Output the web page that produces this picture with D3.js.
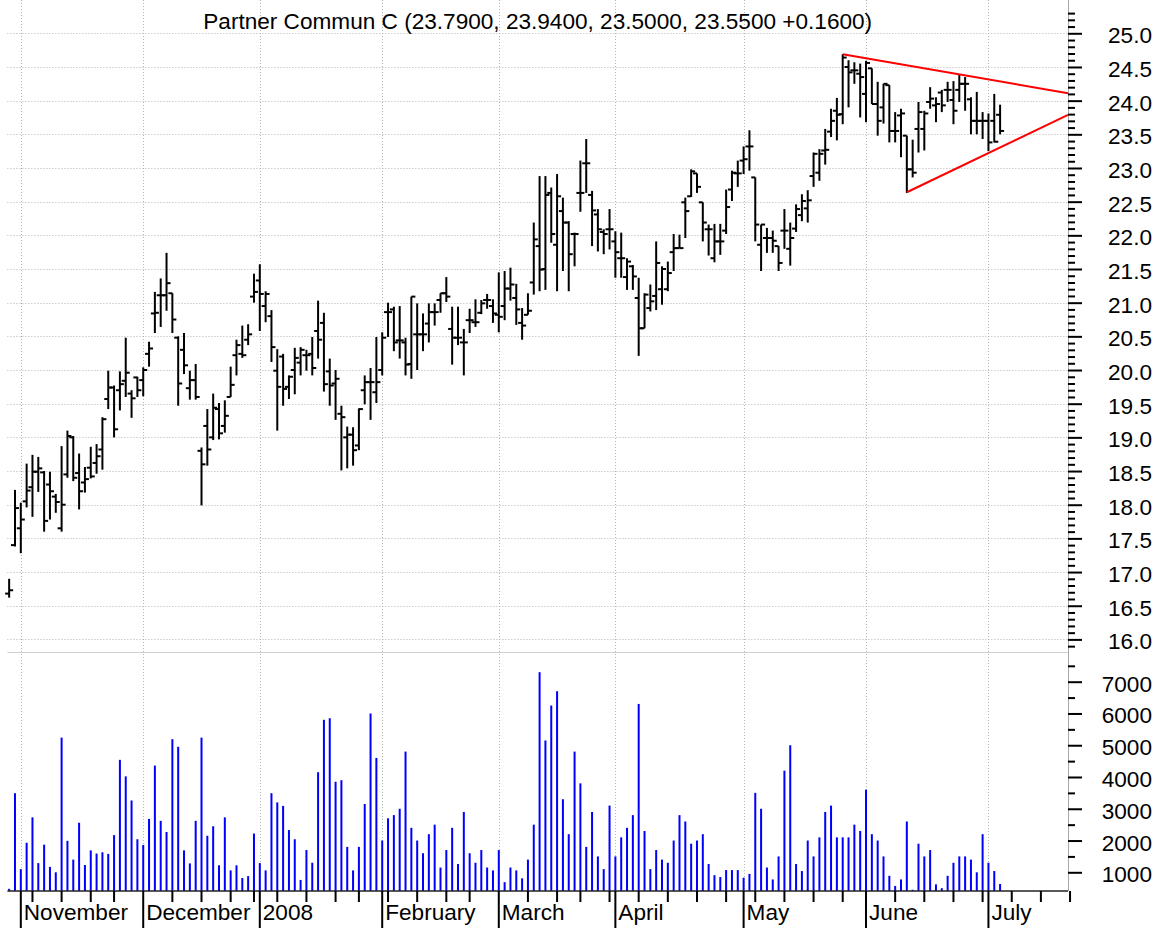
<!DOCTYPE html>
<html lang="en">
<head>
<meta charset="UTF-8" />
<title>Partner Commun C</title>
<style>
  body { margin: 0; background: #fff; }
  svg { display: block; font-family: "Liberation Sans", Arial, sans-serif; }
</style>
</head>
<body>
<svg id="chart" width="1168" height="928"></svg>
<script src="https://cdn.jsdelivr.net/npm/d3@7"></script>
<script>
// DATA (trading days from 2007-10-30 to 2008-07-03)
const START_DATE = "2007-10-30";
const HOLIDAYS = ["2007-11-22", "2007-12-25", "2008-01-01", "2008-01-21", "2008-02-18", "2008-03-21", "2008-05-26"];
const TITLE = "Partner Commun C (23.7900, 23.9400, 23.5000, 23.5500 +0.1600)";

const opens = [
  16.68, 17.40, 17.65, 18.05, 18.26, 18.49, 18.48, 18.30, 18.12, 17.65,
  18.45, 19.00, 18.47, 18.33, 18.55, 18.62, 18.82, 19.57, 19.74, 19.70,
  19.84, 19.65, 19.89, 19.85, 20.24, 20.84, 21.11, 21.11, 21.14, 20.48,
  20.30, 19.73, 19.85, 18.80, 19.17, 19.00, 19.42, 19.17, 19.60, 20.22,
  20.24, 20.45, 21.09, 21.33, 20.95, 20.80, 19.99, 20.20, 19.75, 20.00,
  20.11, 20.22, 20.24, 20.58, 20.70, 19.98, 19.80, 19.35, 19.00, 19.04,
  18.88, 19.70, 19.82, 19.67, 20.00, 20.86, 20.90, 20.44, 20.41, 20.09,
  20.53, 20.53, 20.69, 20.86, 21.04, 21.14, 20.61, 20.48, 20.41, 20.74,
  20.71, 20.85, 21.04, 20.95, 20.82, 20.95, 21.21, 21.07, 20.70, 20.82,
  21.30, 21.84, 21.50, 22.63, 21.86, 22.36, 22.19, 22.02, 22.63, 23.07,
  22.60, 22.31, 22.05, 22.09, 21.91, 21.66, 21.38, 21.54, 21.07, 20.62,
  20.92, 21.10, 21.20, 21.20, 21.75, 21.81, 22.49, 22.58, 22.92, 22.49,
  22.09, 21.66, 21.91, 22.07, 22.68, 22.92, 23.11, 23.32, 22.86, 21.86,
  21.96, 21.96, 21.84, 22.07, 21.80, 22.10, 22.30, 22.40, 22.88, 22.93,
  23.26, 23.54, 23.85, 23.80, 24.50, 24.45, 24.40, 24.10, 24.48, 23.95,
  23.90, 24.23, 23.55, 23.78, 23.48, 22.98, 23.58, 23.58, 23.98, 23.93,
  24.12, 24.16, 24.01, 24.16, 24.25, 24.02, 23.70, 23.70, 23.70, 23.70,
  23.79
];
const highs = [
  16.90, 18.22, 18.03, 18.61, 18.74, 18.71, 18.50, 18.49, 18.16, 18.87,
  19.10, 19.02, 18.76, 18.56, 18.86, 18.90, 19.30, 19.99, 19.77, 19.98,
  20.48, 19.70, 19.90, 20.04, 20.42, 21.16, 21.36, 21.74, 21.14, 20.50,
  20.55, 19.99, 20.09, 18.85, 19.42, 19.65, 19.51, 19.55, 20.05, 20.45,
  20.66, 20.68, 21.43, 21.57, 21.17, 20.89, 20.31, 20.24, 19.92, 20.33,
  20.34, 20.30, 20.49, 21.03, 20.85, 20.17, 20.00, 19.47, 19.16, 19.15,
  19.43, 19.92, 20.03, 20.49, 20.56, 21.00, 20.94, 20.95, 20.48, 21.09,
  20.99, 20.84, 20.99, 20.99, 21.14, 21.38, 20.94, 20.94, 20.61, 20.91,
  21.05, 21.04, 21.13, 21.05, 21.45, 21.47, 21.52, 21.28, 20.92, 21.14,
  22.19, 22.88, 22.88, 22.71, 22.91, 22.56, 22.21, 22.04, 23.11, 23.43,
  22.66, 22.39, 22.09, 22.39, 22.06, 22.04, 21.66, 21.56, 21.37, 21.14,
  21.27, 21.91, 21.54, 21.61, 22.02, 22.01, 22.56, 22.98, 22.92, 22.49,
  22.16, 22.17, 22.17, 22.68, 22.96, 23.11, 23.32, 23.56, 22.86, 22.16,
  22.11, 22.07, 21.84, 22.39, 22.19, 22.46, 22.61, 22.67, 23.23, 23.28,
  23.58, 23.88, 24.04, 24.69, 24.60, 24.57, 24.55, 24.59, 24.48, 24.28,
  24.25, 24.23, 23.83, 23.88, 23.48, 23.42, 23.98, 23.85, 24.20, 24.05,
  24.16, 24.28, 24.29, 24.38, 24.35, 24.05, 24.13, 23.83, 23.81, 24.10,
  23.94
];
const lows = [
  16.62, 17.38, 17.28, 17.96, 17.82, 18.19, 17.60, 17.78, 17.88, 17.60,
  18.40, 18.35, 17.93, 18.18, 18.39, 18.46, 18.52, 19.42, 19.00, 19.40,
  19.60, 19.29, 19.60, 19.61, 20.05, 20.55, 20.64, 20.88, 20.55, 19.47,
  19.94, 19.56, 19.56, 17.99, 18.58, 18.96, 18.97, 19.07, 19.60, 19.92,
  20.18, 20.37, 21.00, 20.58, 20.71, 20.12, 19.10, 19.47, 19.57, 19.64,
  19.92, 19.99, 19.92, 20.17, 19.68, 19.47, 19.26, 18.51, 18.54, 18.58,
  18.81, 19.49, 19.26, 19.51, 19.92, 20.49, 20.28, 20.17, 19.92, 19.87,
  20.00, 20.28, 20.41, 20.66, 20.85, 21.01, 20.08, 20.37, 19.92, 20.55,
  20.64, 20.83, 20.91, 20.70, 20.56, 20.74, 21.03, 20.67, 20.45, 20.82,
  21.12, 21.17, 21.19, 21.89, 21.17, 21.47, 21.17, 21.54, 22.35, 22.63,
  21.84, 21.76, 21.72, 21.79, 21.37, 21.37, 21.19, 21.19, 20.21, 20.62,
  20.87, 20.89, 20.97, 21.17, 21.47, 21.81, 21.96, 22.57, 22.63, 21.91,
  21.70, 21.60, 21.71, 22.02, 22.51, 22.72, 22.91, 22.96, 21.91, 21.47,
  21.74, 21.74, 21.47, 21.80, 21.55, 22.05, 22.21, 22.19, 22.72, 22.81,
  23.05, 23.46, 23.41, 23.65, 23.90, 24.25, 23.75, 23.68, 23.95, 23.48,
  23.66, 23.38, 23.38, 23.16, 22.63, 22.86, 23.23, 23.26, 23.88, 23.68,
  23.83, 23.98, 23.65, 23.98, 23.85, 23.50, 23.50, 23.43, 23.25, 23.38,
  23.50
];
const closes = [
  16.73, 17.95, 17.78, 18.21, 18.49, 18.54, 17.76, 18.20, 18.04, 18.00,
  19.02, 18.40, 18.20, 18.38, 18.42, 18.72, 19.27, 19.74, 19.12, 19.79,
  19.96, 19.58, 19.70, 20.00, 20.32, 20.85, 21.11, 21.29, 20.75, 19.80,
  20.07, 19.85, 19.60, 18.60, 18.82, 19.44, 19.06, 19.32, 19.78, 20.37,
  20.22, 20.53, 21.16, 21.13, 21.13, 20.34, 19.75, 19.72, 19.90, 20.18,
  20.30, 20.22, 20.03, 20.45, 19.79, 19.77, 19.87, 19.30, 19.04, 18.81,
  19.42, 19.82, 19.82, 19.82, 20.48, 20.86, 20.41, 20.44, 20.08, 21.09,
  20.53, 20.53, 20.86, 20.86, 21.14, 21.09, 20.48, 20.48, 20.41, 20.74,
  20.71, 20.99, 21.04, 20.84, 20.79, 21.21, 21.27, 20.90, 20.66, 20.88,
  21.94, 21.49, 22.60, 22.02, 22.58, 22.19, 21.72, 22.02, 22.63, 23.07,
  22.37, 22.09, 22.02, 22.09, 21.75, 21.66, 21.61, 21.39, 20.62, 21.12,
  21.02, 21.59, 21.50, 21.44, 21.81, 21.81, 22.36, 22.95, 22.72, 22.19,
  22.09, 21.91, 21.91, 22.42, 22.93, 22.92, 23.13, 23.32, 22.16, 22.16,
  21.96, 21.92, 21.59, 22.07, 21.96, 22.39, 22.51, 22.52, 23.21, 23.21,
  23.27, 23.70, 23.79, 24.64, 24.42, 24.45, 24.35, 24.56, 23.95, 23.70,
  24.25, 23.55, 23.55, 23.81, 22.98, 22.93, 23.83, 23.81, 24.03, 23.95,
  23.93, 24.16, 23.85, 24.25, 24.25, 23.70, 23.70, 23.70, 23.38, 23.39,
  23.55
];
const volumes = [
  480, 3490, 1100, 1930, 2730, 1290, 1870, 1170, 1000, 5240,
  1990, 1400, 2560, 1230, 1690, 1590, 1630, 1580, 2170, 4540,
  4020, 3260, 2040, 1860, 2680, 4360, 2620, 2270, 5190, 4950,
  1690, 1280, 2620, 5240, 2150, 2450, 1220, 2730, 1060, 1220,
  820, 880, 2220, 1290, 1060, 3490, 3200, 3090, 2330, 2040,
  760, 1700, 1300, 4150, 5800, 5850, 3850, 3900, 1800, 1060,
  1800, 3150, 6000, 4600, 2000, 2700, 2800, 3000, 4800, 2400,
  2000, 1600, 2200, 2500, 1150, 1700, 2400, 1260, 2900, 1600,
  1300, 1700, 1150, 1060, 1700, 690, 1150, 1060, 810, 1400,
  2500, 7300, 5150, 6250, 6700, 3300, 2200, 4800, 3800, 1800,
  2900, 1500, 1100, 3100, 1500, 2100, 2400, 2800, 6300, 2300,
  1100, 1700, 1400, 1300, 2000, 2800, 2600, 1900, 2000, 2200,
  1260, 910, 850, 1070, 1070, 1070, 830, 950, 3500, 3000,
  1150, 775, 1500, 4200, 5000, 1260, 1040, 2000, 1500, 2100,
  2900, 3100, 2100, 2100, 2100, 2500, 2300, 3600, 2200, 2000,
  1500, 890, 570, 775, 2600, 450, 1900, 1500, 1700, 620,
  500, 890, 1300, 1500, 1500, 1400, 1000, 2200, 1300, 1040,
  630
];
// trendlines: [trading day index, price]
const upperTrend = [[143, 24.69], [181.65, 24.11]];
const lowerTrend = [[154, 22.64], [181.65, 23.79]];

const priceMajor = d3.range(16, 25.001, 0.5);
const priceMinor = d3.range(15.9, 25.35, 0.1).filter(v => Math.abs(v * 2 - Math.round(v * 2)) > 0.01);
const volMajor = [1000, 2000, 3000, 4000, 5000, 6000, 7000];
const volMinor = [1500, 2500, 3500, 4500, 5500, 6500, 7500];

// LAYOUT
const W = 1168, H = 928;
const LEFT = 7.4, RIGHT = 1068;
const PRICE_TOP = 0, PRICE_BOTTOM = 652;
const VOL_BOTTOM = 891;
const FONT = 22.6;
const LAST_INDEX = 181.65; // axis extends past the data to mid July

// trading day calendar
const parse = d3.utcParse("%Y-%m-%d");
const holidaySet = new Set(HOLIDAYS);
const days = [];
let d = parse(START_DATE);
while (days.length <= Math.ceil(LAST_INDEX)) {
  const dow = d.getUTCDay();
  if (dow !== 0 && dow !== 6 && !holidaySet.has(d3.utcFormat("%Y-%m-%d")(d))) days.push(d);
  d = d3.utcDay.offset(d, 1);
}
const monthStarts = [], weekStarts = [];
days.forEach((day, i) => {
  if (i === 0) return;
  const prev = days[i - 1];
  if (day.getUTCMonth() !== prev.getUTCMonth()) monthStarts.push(i);
  else if (+d3.utcMonday.floor(day) !== +d3.utcMonday.floor(prev)) weekStarts.push(i);
});

const bars = opens.map((o, i) => ({ i, o, h: highs[i], l: lows[i], c: closes[i], v: volumes[i] }));

// scales
const x = d3.scaleLinear().domain([-0.3, LAST_INDEX]).range([LEFT, RIGHT]);
const py = d3.scaleLinear().domain([16, 25]).range([639.4, 33.3]);
const vy = d3.scaleLinear().domain([1000, 7000]).range([872.3, 681.7]);

const svg = d3.select("#chart");
svg.append("rect").attr("width", W).attr("height", H).attr("fill", "#fff");

// grid
const grid = svg.append("g").attr("stroke", "#b4b4b4").attr("stroke-width", 1).attr("stroke-dasharray", "1,2");
grid.selectAll("line.h").data(priceMajor).enter().append("line")
  .attr("x1", LEFT).attr("x2", RIGHT)
  .attr("y1", v => Math.round(py(v)) + 0.5).attr("y2", v => Math.round(py(v)) + 0.5);
grid.selectAll("line.v").data(monthStarts).enter().append("line")
  .attr("x1", i => Math.round(x(i)) + 0.5).attr("x2", i => Math.round(x(i)) + 0.5)
  .attr("y1", PRICE_TOP).attr("y2", VOL_BOTTOM);

// panel separator and right axis line
svg.append("line").attr("x1", LEFT).attr("x2", RIGHT).attr("y1", PRICE_BOTTOM + 0.5).attr("y2", PRICE_BOTTOM + 0.5)
  .attr("stroke", "#d0d0d0");
svg.append("line").attr("x1", RIGHT + 0.5).attr("x2", RIGHT + 0.5).attr("y1", 0).attr("y2", VOL_BOTTOM)
  .attr("stroke", "#a8a8a8");

// title
svg.append("text").attr("x", (LEFT + RIGHT) / 2).attr("y", 29)
  .attr("text-anchor", "middle").attr("font-size", FONT).attr("fill", "#000").text(TITLE);

// right axes
function styleAxis(g, labels) {
  g.select(".domain").remove();
  g.selectAll(".tick line").attr("stroke", "#000").attr("stroke-width", 2);
  if (labels) {
    g.selectAll(".tick text").attr("x", 84).attr("dy", "0.42em")
      .attr("text-anchor", "end").attr("font-size", FONT).attr("fill", "#000")
      .attr("font-family", "\"Liberation Sans\", Arial, sans-serif");
  } else {
    g.selectAll(".tick text").remove();
  }
}
svg.append("g").attr("transform", `translate(${RIGHT},0)`)
  .call(d3.axisRight(py).tickValues(priceMinor).tickSize(7)).call(g => styleAxis(g, false));
svg.append("g").attr("transform", `translate(${RIGHT},0)`)
  .call(d3.axisRight(py).tickValues(priceMajor).tickSize(14).tickFormat(d3.format(".1f"))).call(g => styleAxis(g, true));
svg.append("g").attr("transform", `translate(${RIGHT},0)`)
  .call(d3.axisRight(vy).tickValues(volMinor).tickSize(7)).call(g => styleAxis(g, false));
svg.append("g").attr("transform", `translate(${RIGHT},0)`)
  .call(d3.axisRight(vy).tickValues(volMajor).tickSize(14).tickFormat(d3.format("d"))).call(g => styleAxis(g, true));

// volume bars
svg.append("g").selectAll("rect").data(bars).enter().append("rect")
  .attr("x", b => x(b.i) - 1).attr("width", 2)
  .attr("y", b => Math.min(vy(b.v), VOL_BOTTOM - 1))
  .attr("height", b => VOL_BOTTOM - Math.min(vy(b.v), VOL_BOTTOM - 1))
  .attr("fill", "#0000ff");

// price bars
const pb = svg.append("g").attr("stroke", "#000").attr("stroke-width", 2);
pb.selectAll("line.hl").data(bars).enter().append("line")
  .attr("x1", b => x(b.i)).attr("x2", b => x(b.i))
  .attr("y1", b => py(b.h)).attr("y2", b => py(b.l));
pb.selectAll("line.o").data(bars).enter().append("line")
  .attr("x1", b => x(b.i) - 4).attr("x2", b => x(b.i))
  .attr("y1", b => py(b.o)).attr("y2", b => py(b.o));
pb.selectAll("line.c").data(bars).enter().append("line")
  .attr("x1", b => x(b.i)).attr("x2", b => x(b.i) + 4)
  .attr("y1", b => py(b.c)).attr("y2", b => py(b.c));

// trendlines
const trend = d3.line().x(p => x(p[0])).y(p => py(p[1]));
[upperTrend, lowerTrend].forEach(t => {
  svg.append("path").attr("d", trend(t)).attr("fill", "none").attr("stroke", "#ff0000").attr("stroke-width", 2);
});

// bottom axis
const xa = svg.append("g");
xa.append("line").attr("x1", LEFT).attr("x2", RIGHT).attr("y1", VOL_BOTTOM).attr("y2", VOL_BOTTOM)
  .attr("stroke", "#222").attr("stroke-width", 1.5);
xa.selectAll("line.w").data(weekStarts).enter().append("line")
  .attr("x1", i => x(i)).attr("x2", i => x(i))
  .attr("y1", VOL_BOTTOM).attr("y2", VOL_BOTTOM + 11)
  .attr("stroke", "#000").attr("stroke-width", 2);
xa.selectAll("line.m").data(monthStarts).enter().append("line")
  .attr("x1", i => x(i)).attr("x2", i => x(i))
  .attr("y1", VOL_BOTTOM).attr("y2", H)
  .attr("stroke", "#000").attr("stroke-width", 2);
xa.selectAll("text").data(monthStarts).enter().append("text")
  .attr("x", i => x(i) + 3).attr("y", 920)
  .attr("font-size", FONT).attr("fill", "#000")
  .text(i => days[i].getUTCMonth() === 0 ? d3.utcFormat("%Y")(days[i]) : d3.utcFormat("%B")(days[i]));
</script>
</body>
</html>
